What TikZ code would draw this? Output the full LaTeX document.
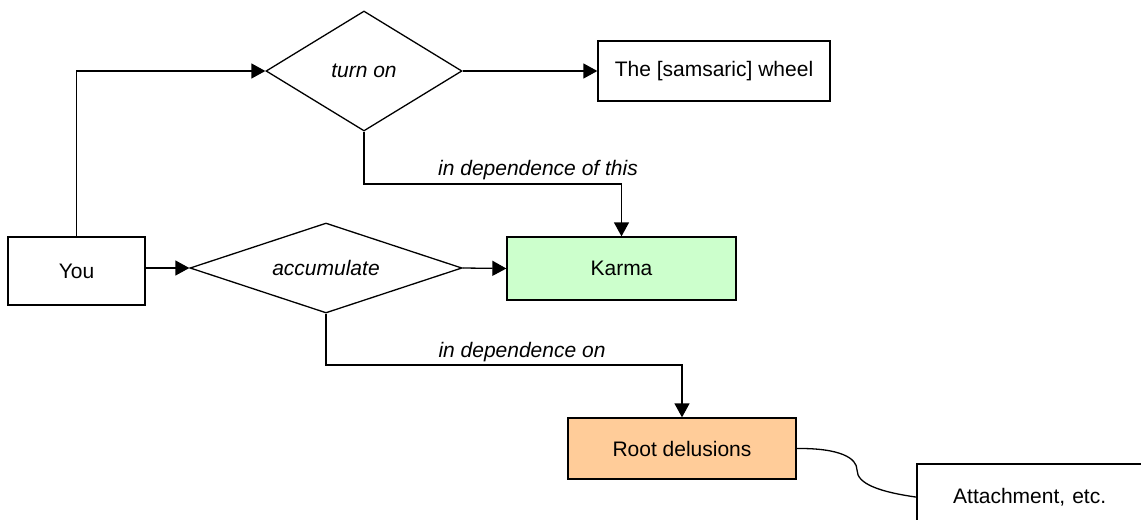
\documentclass[tikz,border=0pt]{standalone}
\usepackage{fontspec}
\setmainfont{Liberation Sans}
\usetikzlibrary{shapes.geometric,arrows.meta}
\definecolor{karmagreen}{HTML}{CCFFCC}
\definecolor{rootorange}{HTML}{FFCC99}
\begin{document}
\begin{tikzpicture}[x=1pt,y=-1pt,
  every node/.style={font=\fontsize{21}{25}\selectfont},
  box/.style={draw, line width=1.3pt, rectangle, inner sep=0pt},
  dia/.style={draw, line width=1.3pt, diamond, inner sep=0pt, font=\fontsize{21}{25}\selectfont\itshape},
  lbl/.style={font=\fontsize{21}{25}\selectfont\itshape, inner sep=0pt},
  conn/.style={line width=1.3pt},
  arr/.style={line width=1.3pt, -{Triangle[length=14pt,width=15pt]}}]
\useasboundingbox (0,0) rectangle (1141,520);
% nodes
\node[box, minimum width=137pt, minimum height=68pt] (you) at (76.5,271) {You};
\node[dia, minimum width=196pt, minimum height=120pt, shape aspect=1.633] (turnon) at (364,71) {turn on};
\node[dia, minimum width=272pt, minimum height=90pt, shape aspect=3.02] (accum) at (326,268) {accumulate};
\node[box, minimum width=232pt, minimum height=60pt] (wheel) at (714,71) {The [samsaric] wheel};
\node[box, fill=karmagreen, minimum width=229pt, minimum height=63pt] (karma) at (621.5,268.5) {Karma};
\node[box, fill=rootorange, minimum width=228pt, minimum height=61pt] (root) at (682,448.5) {Root delusions};
\node[anchor=north west, minimum height=66pt, text width=185pt, align=left, inner sep=0pt, inner xsep=36pt] (att) at (917,464) {Attachment, etc.};
\coordinate (attedge) at (1141,464);
\coordinate (attbottom) at (917,520);
\draw[conn] (attedge) -- (att.north west) -- (attbottom);
% labels
\node[lbl] (l1) at (538,170) {in dependence of this};
\node[lbl] (l2) at (522,352) {in dependence on};
% connectors
\draw[arr] (you.north) |- (turnon.west);
\draw[arr] (turnon.east) -- (wheel.west);
\coordinate (c1) at (364,184);
\draw[arr] (turnon.south) -- (c1) -| (karma.north);
\draw[arr] (you.east |- accum.west) -- (accum.west);
\draw[arr] (accum.east) -- (karma.west);
\coordinate (c2) at (326,365);
\draw[arr] (accum.south) -- (c2) -| (root.north);
\draw[conn] (root.east) .. controls (840,448) and (857,458) .. (857,470)
  .. controls (857,484) and (880,492) .. (att.west);
\end{tikzpicture}
\end{document}
